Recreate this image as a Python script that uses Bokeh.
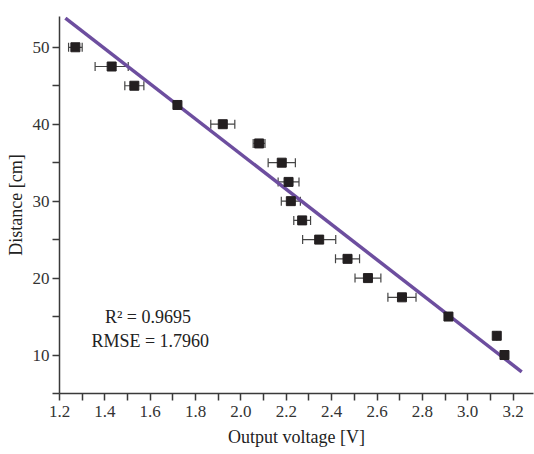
from bokeh.plotting import figure
from bokeh.models import Range1d, FixedTicker, Whisker, ColumnDataSource, Label, TeeHead, PrintfTickFormatter
from bokeh.embed import file_html
from bokeh.resources import INLINE

# Data
voltage = [1.27, 1.43, 1.53, 1.72, 1.92, 2.08, 2.18, 2.21, 2.22, 2.27, 2.345, 2.47, 2.56, 2.71, 2.915, 3.128, 3.162]
distance = [50, 47.5, 45, 42.5, 40, 37.5, 35, 32.5, 30, 27.5, 25, 22.5, 20, 17.5, 15, 12.5, 10]
voltage_err = [0.03, 0.073, 0.042, 0.0, 0.053, 0.026, 0.06, 0.046, 0.042, 0.037, 0.073, 0.053, 0.057, 0.062, 0.0, 0.0, 0.0]

fit_x = [1.226, 3.238]
fit_y = [53.8, 7.8]

x_ticks = [1.2, 1.4, 1.6, 1.8, 2.0, 2.2, 2.4, 2.6, 2.8, 3.0, 3.2]
x_minor = [1.3, 1.5, 1.7, 1.9, 2.1, 2.3, 2.5, 2.7, 2.9, 3.1]
y_ticks = [10, 20, 30, 40, 50]
y_minor = [5, 15, 25, 35, 45]

r2_text = "R\u00b2  = 0.9695"
rmse_text = "RMSE = 1.7960"

FONT = "Liberation Serif"
AX = "#3a3a3a"

p = figure(width=534, height=454, output_backend="svg", toolbar_location=None,
           x_range=Range1d(1.2, 3.29), y_range=Range1d(5, 54.0),
           min_border_left=59, min_border_right=1, min_border_top=16, min_border_bottom=61)
p.outline_line_color = None
p.grid.visible = False
p.background_fill_color = "white"
p.border_fill_color = "white"

lower = [v - e for v, e in zip(voltage, voltage_err)]
upper = [v + e for v, e in zip(voltage, voltage_err)]
src = ColumnDataSource(dict(x=voltage, y=distance, lo=lower, hi=upper))

w = Whisker(source=src, base="y", lower="lo", upper="hi", dimension="width",
            line_color="#444444", line_width=1.2,
            upper_head=TeeHead(size=9, line_color="#444444", line_width=1.2),
            lower_head=TeeHead(size=9, line_color="#444444", line_width=1.2))
p.add_layout(w)

p.line(fit_x, fit_y, line_color="#6d4e9f", line_width=3.5)
p.scatter("x", "y", source=src, marker="square", size=9, fill_color="#231f20", line_color="#231f20")

p.xaxis.ticker = FixedTicker(ticks=x_ticks, minor_ticks=x_minor)
p.yaxis.ticker = FixedTicker(ticks=y_ticks, minor_ticks=y_minor)
p.xaxis.formatter = PrintfTickFormatter(format="%.1f")
p.xaxis.axis_label = "Output voltage [V]"
p.yaxis.axis_label = "Distance [cm]"
for ax in (p.xaxis[0], p.yaxis[0]):
    ax.axis_line_color = AX
    ax.axis_line_width = 1.5
    ax.major_tick_line_color = AX
    ax.minor_tick_line_color = AX
    ax.major_tick_line_width = 1.5
    ax.minor_tick_line_width = 1.5
    ax.major_tick_in = 0
    ax.major_tick_out = 7
    ax.minor_tick_in = 0
    ax.minor_tick_out = 7
    ax.major_label_text_font = FONT
    ax.major_label_text_font_size = "17px"
    ax.major_label_text_color = "#333333"
    ax.axis_label_text_font = FONT
    ax.axis_label_text_font_size = "18px"
    ax.axis_label_text_font_style = "normal"
    ax.axis_label_text_color = "#222222"
p.xaxis.major_label_standoff = 5
p.yaxis.major_label_standoff = 3
p.xaxis.axis_label_standoff = 7
p.yaxis.axis_label_standoff = 4

p.add_layout(Label(x=1.60, y=14.9, text=r2_text, text_align="center", text_baseline="middle",
                   text_font=FONT, text_font_size="18px", text_color="#222222"))
p.add_layout(Label(x=1.60, y=11.8, text=rmse_text, text_align="center", text_baseline="middle",
                   text_font=FONT, text_font_size="18px", text_color="#222222"))

open("out.html", "w").write(file_html(p, INLINE))
